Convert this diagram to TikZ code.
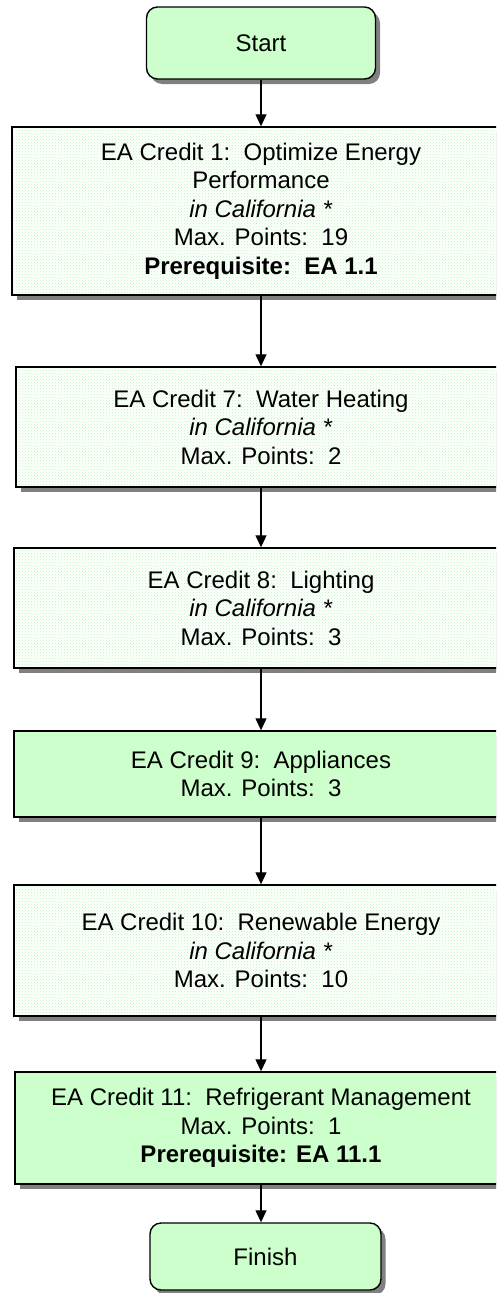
\documentclass[tikz,border=0pt]{standalone}
\usepackage{fontspec}
\setmainfont{Liberation Sans}
\usetikzlibrary{shapes,arrows.meta,positioning,calc,patterns,shadows}

\definecolor{mint}{HTML}{CCFFCC}
\definecolor{mintdot}{HTML}{BDF7BD}

\begin{document}
\begin{tikzpicture}[x=1pt, y=-1pt,
    credit/.style={rectangle, draw=black, line width=1.4pt, inner sep=0pt,
        align=center, font=\fontsize{24}{28.5}\selectfont,
        drop shadow={shadow xshift=4.5pt, shadow yshift=-5pt, fill=black!50, opacity=1}},
    solid/.style={credit, fill=mint},
    dotted/.style={credit, preaction={fill=white}, pattern=crosshatch dots, pattern color=mintdot},
    terminal/.style={solid, rounded corners=11pt},
    arrow/.style={-{Triangle[length=12pt, width=11pt]}, line width=1.2pt}
]
\useasboundingbox (0,0) rectangle (496,1293);
\clip (0,0) rectangle (496,1293);

% Start / Finish
\node[terminal, minimum width=229pt, minimum height=72pt] (start) at (261, 43) {Start};
\node[terminal, minimum width=231pt, minimum height=67pt] (finish) at (265.5, 1256.5) {Finish};

% Energy & Atmosphere credits (right side runs past the page)
\node[dotted, minimum width=498pt, minimum height=168pt] (ea1) at (261, 211)
    {EA Credit 1:\ \ Optimize Energy\\Performance\\\textit{in California *}\\Max. Points:\ \ 19\\\textbf{Prerequisite:\ \ EA 1.1}};
\node[dotted, minimum width=490pt, minimum height=120pt] (ea7) at (261, 427)
    {EA Credit 7:\ \ Water Heating\\\textit{in California *}\\Max. Points:\ \ 2};
\node[dotted, minimum width=494pt, minimum height=120pt] (ea8) at (261, 608)
    {EA Credit 8:\ \ Lighting\\\textit{in California *}\\Max. Points:\ \ 3};
\node[solid, minimum width=494pt, minimum height=86pt] (ea9) at (261, 774)
    {EA Credit 9:\ \ Appliances\\Max. Points:\ \ 3};
\node[dotted, minimum width=494pt, minimum height=131pt] (ea10) at (261, 950.5)
    {EA Credit 10:\ \ Renewable Energy\\\textit{in California *}\\Max. Points:\ \ 10};
\node[solid, minimum width=492pt, minimum height=112pt] (ea11) at (261, 1128)
    {EA Credit 11:\ \ Refrigerant Management\\Max. Points:\ \ 1\\\textbf{Prerequisite: EA 11.1}};

% Flow
\draw[arrow] (start) -- (ea1);
\draw[arrow] (ea1) -- (ea7);
\draw[arrow] (ea7) -- (ea8);
\draw[arrow] (ea8) -- (ea9);
\draw[arrow] (ea9) -- (ea10);
\draw[arrow] (ea10) -- (ea11);
\draw[arrow] (ea11.south) -- (ea11.south |- finish.north);

\end{tikzpicture}
\end{document}
